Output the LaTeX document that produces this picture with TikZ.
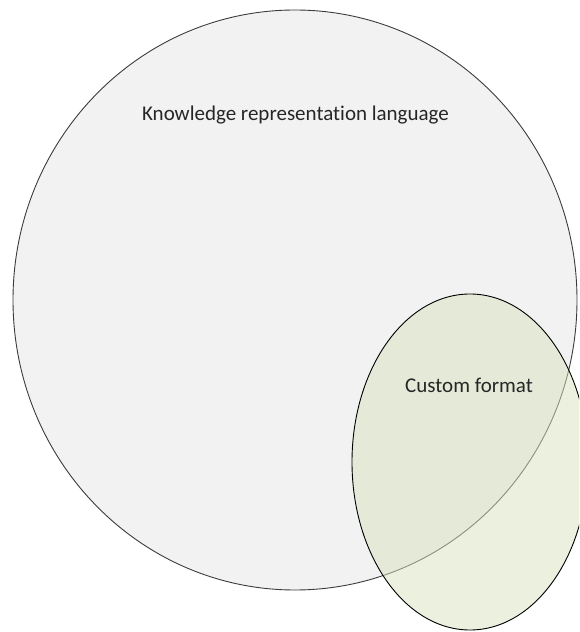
\documentclass[tikz,border=0pt]{standalone}
\usepackage{fontspec}
\setmainfont[Ligatures=NoCommon]{Carlito}
\definecolor{bigfill}{RGB}{242,242,242}
\definecolor{smallfill}{RGB}{215,228,189}
\definecolor{edge}{RGB}{60,60,60}
\begin{document}
\begin{tikzpicture}[x=1pt,y=1pt,
  lbl/.style={font=\fontsize{21}{25}\selectfont, text=black!85}]
\useasboundingbox (0,0) rectangle (579,632);
\begin{scope}
\clip (0,0) rectangle (579,632);
\draw[edge, line width=0.9pt, fill=bigfill] (295,332) ellipse [x radius=282, y radius=290];
\fill[smallfill, fill opacity=0.5] (470,170) ellipse [x radius=118, y radius=168];
\draw[black, line width=0.9pt] (470,170) ellipse [x radius=118, y radius=168];
\end{scope}
\node[lbl] (krl) at (295.5,517) {Knowledge representation language};
\node[lbl] (cf) at (469,247) {Custom format};
\end{tikzpicture}
\end{document}
